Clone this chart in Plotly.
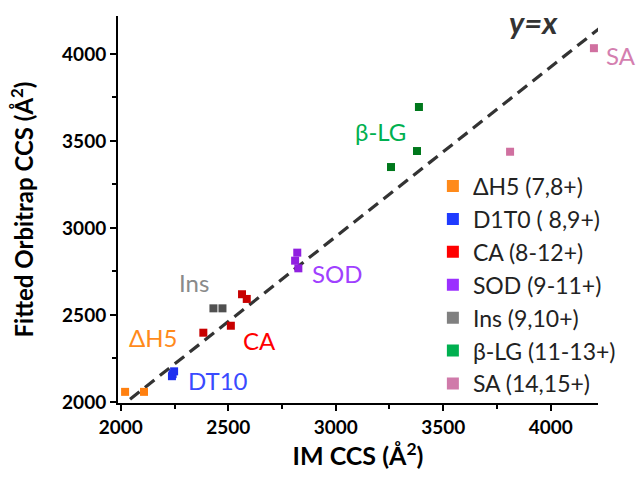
import plotly.graph_objects as go

# ---- data (IM CCS, fitted Orbitrap CCS) ----
dh5_x = [2020, 2108]
dh5_y = [2058, 2058]
d1t0_x = [2238, 2241, 2248]
d1t0_y = [2148, 2160, 2176]
ca_x = [2384, 2512, 2564, 2586]
ca_y = [2398, 2438, 2619, 2592]
sod_x = [2821, 2811, 2826]
sod_y = [2858, 2812, 2768]
ins_x = [2431, 2473]
ins_y = [2538, 2538]
blg_x = [3387, 3378, 3257]
blg_y = [3695, 3442, 3350]
sa_x = [4201, 3811]
sa_y = [4033, 3438]

line_x = [2043, 4276]
line_y = [2016, 4195]

legend_names = ["ΔH5 (7,8+)", "D1T0 ( 8,9+)", "CA (8-12+)", "SOD (9-11+)",
                "Ins (9,10+)", "β-LG (11-13+)", "SA (14,15+)"]
label_texts = ["ΔH5", "DT10", "CA", "SOD", "Ins", "β-LG"]
label_x = [2150, 2453, 2643, 3006, 2341, 3206]
label_y = [2368, 2126, 2356, 2736, 2684, 3552]

series_x = [dh5_x, d1t0_x, ca_x, sod_x, ins_x, blg_x, sa_x]
series_y = [dh5_y, d1t0_y, ca_y, sod_y, ins_y, blg_y, sa_y]
data_colors = ["#FF8010", "#1F30F0", "#C80000", "#9020E0", "#505050", "#00781C", "#D070A0"]
legend_colors = ["#FF8A1A", "#1F3BFF", "#FF0000", "#9B30FF", "#808080", "#00B050", "#D07AAA"]
label_colors = ["#FF8A1A", "#3A4BFF", "#FF0000", "#A040FF", "#8A8A8A", "#00B050"]

FONT = "Lato, 'Noto Sans', sans-serif"

fig = go.Figure()

fig.add_trace(go.Scatter(x=line_x, y=line_y, mode="lines",
                         line=dict(color="#333333", width=3.2, dash="12px,7px"),
                         showlegend=False, cliponaxis=False, hoverinfo="skip"))

for i in range(len(series_x)):
    fig.add_trace(go.Scatter(x=series_x[i], y=series_y[i], mode="markers",
                             marker=dict(symbol="square", size=8, color=data_colors[i],
                                         line=dict(width=0)),
                             showlegend=False, cliponaxis=False))
for i in range(len(series_x)):
    fig.add_trace(go.Scatter(x=[None], y=[None], mode="markers", name=legend_names[i],
                             legendgroup="g%d" % i,
                             marker=dict(symbol="square", size=12, color=legend_colors[i],
                                         line=dict(width=0))))

for t, x, y, c in zip(label_texts, label_x, label_y, label_colors):
    fig.add_annotation(x=x, y=y, xref="x", yref="y", text=t, showarrow=False,
                       font=dict(family=FONT, size=24, color=c))

# SA label sits just right of the plotting area
fig.add_annotation(x=1.048, y=0.899, xref="paper", yref="paper", text="SA",
                   xanchor="center", yanchor="middle",
                   showarrow=False, font=dict(family=FONT, size=24, color="#D47FB0"))

fig.add_annotation(x=3922, y=4184, xref="x", yref="y", text="<b><i>y=x</i></b>",
                   showarrow=False, font=dict(family=FONT, size=31, color="#333333"))

axis_common = dict(
    showline=True, linecolor="black", linewidth=2, mirror=False,
    ticks="outside", ticklen=6, tickwidth=2, tickcolor="black",
    showgrid=False, zeroline=False,
    tickfont=dict(family=FONT, size=19, color="black", weight="bold"),
    minor=dict(ticks="outside", ticklen=4, tickwidth=2, tickcolor="black", dtick=250,
               showgrid=False),
    dtick=500,
)

fig.update_layout(
    width=639, height=480,
    margin=dict(l=118, r=41, t=16, b=77),
    paper_bgcolor="white", plot_bgcolor="white",
    font=dict(family=FONT),
    xaxis=dict(range=[1987, 4220], tick0=2000,
               title=dict(text="<b>IM CCS (Å<sup>2</sup>)</b>",
                          font=dict(family=FONT, size=25, color="black"), standoff=10),
               **axis_common),
    yaxis=dict(range=[1994, 4218], tick0=2000,
               title=dict(text="<b>Fitted Orbitrap CCS (Å<sup>2</sup>)</b>",
                          font=dict(family=FONT, size=24, color="black"), standoff=22),
               **axis_common),
    legend=dict(x=0.656, y=0.616, xanchor="left", yanchor="top",
                bgcolor="rgba(0,0,0,0)", tracegroupgap=0,
                font=dict(family=FONT, size=23, color="#222222")),
    showlegend=True,
)

fig.write_html("out.html")
